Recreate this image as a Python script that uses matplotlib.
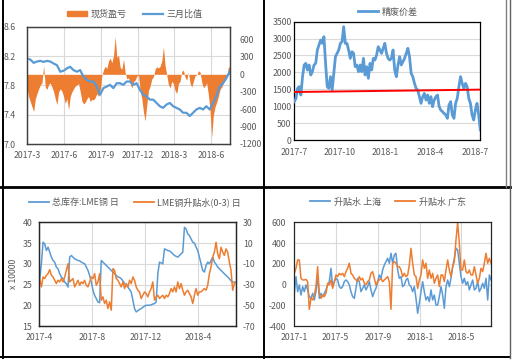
import numpy as np
import pandas as pd
import matplotlib
matplotlib.use('Agg')
import matplotlib.pyplot as plt
from matplotlib.lines import Line2D
from matplotlib.patches import Patch
from matplotlib.transforms import blended_transform_factory
from matplotlib.ticker import FuncFormatter

plt.rcParams['font.family'] = ['Noto Sans CJK SC', 'DejaVu Sans']
plt.rcParams['axes.unicode_minus'] = False

# =========================================
# 데이터
# =========================================

# 1) 现货盈亏 (右轴) / 三月比值 (左轴)
spot_pnl = [-240, -385, -470, -560, -640, -420, -330, -250, -180, -150,
            150, -220, -260, -170, -150, -220, -300, -420, -520, -300,
            -250, -290, -380, -500, -420, -610, -380, -300, -250, -200,
            -180, -160, -300, -460, -510, -480, -420, -380, -470, -430,
            -440, -400, -330, -380, -280, -20, 80, 140, 100, 230,
            280, 200, 320, 650, 290, 330, 120, 90, 260, 30,
            -80, -60, -150, -240, -130, -100, -30, -10, -280, -420,
            -650, -800, -520, -280, -200, -80, -40, 90, 130, 110,
            140, 230, 470, 150, -10, -180, -230, -120, -160, -280,
            -330, -160, -120, 50, 70, -50, -100, 40, -150, -220,
            -120, -20, -10, 60, 40, -130, -230, -200, -150, -350,
            -620, -1080, -700, -560, -480, -380, -260, -220, -150, -100,
            -40, 120, 130]
ratio_3m = [8.165, 8.152, 8.107, 8.125, 8.134, 8.120, 8.134, 8.125, 8.098, 8.076,
            7.986, 7.999, 8.031, 8.053, 8.008, 7.986, 8.008, 7.919, 7.874, 7.852,
            7.852, 7.784, 7.672, 7.762, 7.784, 7.807, 7.762, 7.829, 7.829, 7.807,
            7.852, 7.852, 7.807, 7.829, 7.739, 7.672, 7.650, 7.605, 7.605, 7.560,
            7.515, 7.493, 7.538, 7.560, 7.515, 7.493, 7.471, 7.426, 7.426, 7.381,
            7.426, 7.471, 7.493, 7.471, 7.515, 7.471, 7.560, 7.650, 7.784, 7.829,
            7.896, 7.986]

# 2) 精废价差
scrap_spread = [1134, 1233, 1528, 1578, 1331, 1873, 2219, 2268, 2071, 2219,
                1923, 2021, 2219, 2268, 2662, 2810, 2958, 2859, 3057, 2268,
                1578, 1528, 1873, 1479, 1972, 2465, 2564, 2662, 2859, 2909,
                3352, 2859, 2859, 2662, 2416, 2613, 2564, 2169, 2219, 2021,
                2219, 2021, 2416, 1923, 2169, 1824, 2268, 2071, 2416, 2366,
                2514, 2761, 2662, 2564, 2712, 2859, 2564, 2416, 2366, 2416,
                2662, 2071, 1873, 2219, 2465, 2219, 2317, 2416, 2564, 2712,
                2465, 1972, 1873, 1676, 1528, 1479, 1282, 1085, 1282, 1380,
                1183, 1331, 1085, 1282, 986, 1183, 1282, 1331, 986, 887,
                838, 789, 740, 641, 1035, 1134, 740, 641, 1085, 1233,
                1578, 1873, 1676, 1528, 1676, 1578, 1233, 1085, 740, 592,
                887, 1085, 740, 296]
trend_ends = [1420, 1490]

# 3) 总库存:LME铜 日 (左轴, 万吨) / LME铜升贴水(0-3) 日 (右轴)
lme_stock = [26.4, 30.0, 35.2, 34.8, 33.2, 34.0, 32.8, 31.6, 30.8, 30.4,
             29.2, 28.8, 27.6, 26.8, 26.4, 25.6, 25.2, 24.4, 31.6, 32.0,
             31.6, 31.2, 31.0, 30.8, 30.7, 30.4, 30.2, 30.0, 29.2, 28.4,
             27.2, 25.6, 23.6, 22.4, 21.6, 20.8, 20.6, 30.8, 30.4, 30.0,
             29.6, 29.2, 28.8, 28.4, 28.0, 27.6, 27.2, 26.8, 26.7, 26.4,
             25.9, 25.2, 24.8, 24.4, 23.8, 23.2, 21.2, 19.2, 18.4, 18.7,
             19.0, 19.2, 19.5, 19.8, 20.0, 20.0, 20.0, 20.1, 20.3, 20.4,
             20.8, 27.6, 30.4, 30.2, 30.0, 33.6, 33.4, 33.2, 33.1, 32.8,
             32.4, 32.0, 31.8, 31.6, 32.0, 32.4, 32.8, 38.8, 38.4, 37.2,
             36.8, 36.0, 35.2, 35.0, 34.0, 33.2, 31.6, 30.0, 28.4, 28.0,
             29.6, 30.4, 30.0, 30.8, 31.6, 30.4, 29.9, 29.2, 28.8, 28.4,
             28.0, 27.6, 27.2, 26.8, 26.4, 25.9, 25.6, 25.6, 25.4]
lme_y_pix = [175, 200, 170, 175, 165, 160, 148, 165, 170, 180,
             190, 180, 185, 175, 185, 170, 150, 130, 185, 180,
             175, 200, 190, 180, 195, 185, 190, 180, 195, 200,
             185, 170, 175, 160, 195, 185, 160, 240, 230, 250,
             240, 265, 245, 270, 145, 150, 175, 180, 190, 200,
             185, 205, 190, 200, 180, 190, 170, 180, 200, 210,
             215, 235, 225, 215, 220, 230, 215, 205, 185, 240,
             230, 225, 235, 230, 225, 235, 225, 230, 220, 205,
             215, 200, 215, 185, 205, 190, 210, 225, 215, 210,
             220, 230, 250, 225, 205, 225, 215, 215, 210, 205,
             210, 195, 160, 140, 110, 95, 65, 100, 115, 80,
             95, 105, 85, 95, 125, 150, 210, 190, 185]
lme_spread = [round(30 - (p - 5) * 0.3195, 1) for p in lme_y_pix]

# 4) 升贴水 上海 / 升贴水 广东
prem_sh = [-85, 76, -69, -4, -101, -20, -69, -4, -52, -117,
           -133, -85, -149, -69, 92, -133, -85, -117, -85, -52,
           -4, 28, 156, -20, 28, 60, 44, -20, -37, -20,
           28, 44, 28, -4, -69, -117, -133, -37, 60, 28,
           -69, -37, -4, -52, -20, 28, -52, -117, -69, -37,
           28, 92, 60, 140, 188, 221, 253, 205, 301, 205,
           285, 301, 140, 60, 76, -20, -4, 44, 60, -4,
           -20, -69, -20, -133, -278, -181, -69, 28, -69, -149,
           -117, -165, -52, -149, -101, -198, -198, -117, -20, -101,
           -229, -20, 44, -20, 60, 172, 253, 349, 333, 205,
           76, 12, 60, -4, 28, -52, -4, 44, -52, -37,
           28, -69, -37, 12, -37, 60, -149, 92, 44]
prem_gd = [108, 156, 237, 237, 60, 44, 44, 50, 28, -239,
           -133, -149, -101, -20, 172, -85, -133, -101, -117, -85,
           12, -4, 44, -37, 28, 92, 76, 108, 92, 108,
           76, 124, 156, 205, 108, 92, 60, 44, 28, 76,
           44, 60, 12, -4, 28, 44, 108, 124, 60, -4,
           28, 44, 60, 28, 44, 60, 76, 28, -239, 205,
           221, 205, 172, 172, 140, 76, 108, 76, 92, 188,
           349, 205, 92, 76, -37, 44, 92, 237, 156, 205,
           60, 140, 60, 108, 12, 60, 92, -20, 92, 92,
           28, 140, 237, 140, 76, 172, 221, 430, 600, 397,
           140, 140, 237, 124, 108, 140, 92, 92, 172, 92,
           12, 60, 156, 124, 205, 301, 205, 253, 205]

BLUE = '#5B9BD5'
ORANGE = '#ED7D31'
TXT = '#595959'
GRID = '#D9D9D9'

W, H = 513, 362


def box(l, t, r, b):
    return [l / W, 1 - b / H, (r - l) / W, (b - t) / H]


ym_fmt = FuncFormatter(lambda v, p: '%d-%d' % (pd.Timestamp(matplotlib.dates.num2date(v)).year,
                                               pd.Timestamp(matplotlib.dates.num2date(v)).month))


def style(ax, frame='#404040'):
    for s in ax.spines.values():
        s.set_color(frame)
        s.set_linewidth(0.9)
    ax.tick_params(length=0, labelsize=6.3, labelcolor=TXT)


fig = plt.figure(figsize=(W / 100, H / 100), dpi=100)

# =========================================
# 패널 1
# =========================================
d_bar = pd.date_range('2017-03-01', '2018-07-17', periods=len(spot_pnl))
d_rat = pd.date_range('2017-03-01', '2018-07-16', periods=len(ratio_3m))

ax1 = fig.add_axes(box(27, 26.7, 230, 144))
ax1l = ax1.twinx()
ax1.fill_between(d_bar, 0, spot_pnl, color=ORANGE, lw=0, zorder=2)
ax1.set_ylim(-1200, 820)
ax1.set_yticks(range(-1200, 601, 300))
ax1.yaxis.tick_right()
ax1l.yaxis.tick_left()
ax1l.plot(d_rat, ratio_3m, color=BLUE, lw=1.6)
ax1l.set_ylim(7.0, 8.6)
ax1l.set_yticks([7.0, 7.4, 7.8, 8.2, 8.6])
ax1l.yaxis.set_major_formatter(FuncFormatter(lambda v, p: '%.1f' % v))
ax1.set_xlim(pd.Timestamp('2017-03-01'), pd.Timestamp('2018-07-17'))
ax1.set_xticks(pd.to_datetime(['2017-03-01', '2017-06-01', '2017-09-01',
                               '2017-12-01', '2018-03-01', '2018-06-01']))
ax1.xaxis.set_major_formatter(ym_fmt)
ax1.grid(axis='x', color=GRID, lw=0.8, zorder=0)
ax1.set_axisbelow(True)
tr = blended_transform_factory(ax1.transAxes, ax1l.transData)
for g in [7.4, 7.8, 8.2]:
    ax1.plot([0, 1], [g, g], transform=tr, color=GRID, lw=0.8, zorder=1)
style(ax1)
style(ax1l)
ax1.tick_params(axis='y', pad=7)
ax1l.tick_params(axis='y', pad=8)
ax1.tick_params(axis='x', pad=5)
fig.legend([Patch(color=ORANGE), Line2D([], [], color=BLUE, lw=1.6)],
           ['现货盈亏', '三月比值'], loc='center', bbox_to_anchor=(135 / W, 1 - 14 / H),
           ncol=2, frameon=False, fontsize=6.5, labelcolor=TXT, handlelength=2.2,
           handleheight=0.6, columnspacing=1.8, handletextpad=0.4)

# =========================================
# 패널 2
# =========================================
d_scr = pd.date_range('2017-07-01', '2018-07-11', periods=len(scrap_spread))
ax2 = fig.add_axes(box(294.3, 21.7, 480.3, 140))
ax2.plot(d_scr, scrap_spread, color=BLUE, lw=2.0, zorder=3)
ax2.plot([d_scr[0], d_scr[-1]], trend_ends, color='#FF0000', lw=1.4, zorder=4)
ax2.set_ylim(0, 3500)
ax2.set_yticks(range(0, 3501, 500))
ax2.set_xlim(pd.Timestamp('2017-07-01'), pd.Timestamp('2018-07-11'))
ax2.set_xticks(pd.to_datetime(['2017-07-01', '2017-10-01', '2018-01-01',
                               '2018-04-01', '2018-07-01']))
ax2.xaxis.set_major_formatter(ym_fmt)
ax2.grid(axis='y', color=GRID, lw=0.8)
ax2.set_axisbelow(True)
style(ax2, frame='#000000')
ax2.tick_params(axis='y', pad=2)
ax2.tick_params(axis='x', pad=6)
fig.legend([Line2D([], [], color=BLUE, lw=2.0)], ['精废价差'], loc='center',
           bbox_to_anchor=(388 / W, 1 - 12 / H), frameon=False, fontsize=6.5,
           labelcolor=TXT, handlelength=2.2, handletextpad=0.4)

# =========================================
# 패널 3
# =========================================
d_lme = pd.date_range('2017-04-02', '2018-06-28', periods=len(lme_stock))
ax3 = fig.add_axes(box(39.3, 222.3, 236, 326))
ax3r = ax3.twinx()
ax3.plot(d_lme, lme_stock, color=BLUE, lw=1.1)
ax3r.plot(d_lme, lme_spread, color=ORANGE, lw=1.1)
ax3.set_ylim(15, 40)
ax3.set_yticks(range(15, 41, 5))
ax3r.set_ylim(-70, 30)
ax3r.set_yticks(range(-70, 31, 20))
ax3.set_xlim(pd.Timestamp('2017-04-01'), pd.Timestamp('2018-06-28'))
ax3.set_xticks(pd.to_datetime(['2017-04-01', '2017-08-01', '2017-12-01', '2018-04-01']))
ax3.xaxis.set_major_formatter(ym_fmt)
ax3.grid(color=GRID, lw=0.8)
ax3.set_axisbelow(True)
ax3.set_ylabel('x 10000', fontsize=6.3, color=TXT, labelpad=3)
style(ax3, frame='#262626')
style(ax3r, frame='#262626')
ax3.tick_params(axis='y', pad=5)
ax3r.tick_params(axis='y', pad=5)
ax3.tick_params(axis='x', pad=5)
fig.legend([Line2D([], [], color=BLUE, lw=1.3), Line2D([], [], color=ORANGE, lw=1.3)],
           ['总库存:LME铜 日', 'LME铜升贴水(0-3) 日'], loc='center',
           bbox_to_anchor=(135 / W, 1 - 202 / H), ncol=2, frameon=False, fontsize=6.5,
           labelcolor=TXT, handlelength=2.2, columnspacing=1.6, handletextpad=0.4)

# =========================================
# 패널 4
# =========================================
d_prem = pd.date_range('2017-01-01', '2018-07-26', periods=len(prem_sh))
ax4 = fig.add_axes(box(294.3, 222.3, 491, 326))
ax4.plot(d_prem, prem_sh, color=BLUE, lw=1.1)
ax4.plot(d_prem, prem_gd, color=ORANGE, lw=1.1)
ax4.set_ylim(-400, 600)
ax4.set_yticks(range(-400, 601, 200))
ax4.set_xlim(pd.Timestamp('2017-01-01'), pd.Timestamp('2018-07-26'))
ax4.set_xticks(pd.to_datetime(['2017-01-01', '2017-05-01', '2017-09-01',
                               '2018-01-01', '2018-05-01']))
ax4.xaxis.set_major_formatter(ym_fmt)
ax4.grid(color=GRID, lw=0.8)
ax4.set_axisbelow(True)
style(ax4, frame='#262626')
ax4.tick_params(axis='y', pad=6)
ax4.tick_params(axis='x', pad=5)
fig.legend([Line2D([], [], color=BLUE, lw=1.3), Line2D([], [], color=ORANGE, lw=1.3)],
           ['升贴水 上海', '升贴水 广东'], loc='center',
           bbox_to_anchor=(388 / W, 1 - 202 / H), ncol=2, frameon=False, fontsize=6.5,
           labelcolor=TXT, handlelength=2.2, columnspacing=1.6, handletextpad=0.4)

# =========================================
# 바깥 테두리 (스크린샷 격자선)
# =========================================
def fline(x0, y0, x1, y1, c='#000000', lw=1.4):
    fig.add_artist(Line2D([x0 / W, x1 / W], [1 - y0 / H, 1 - y1 / H], color=c, lw=lw))

fline(3, 0, 3, 358)
fline(264, 0, 264, 358)
fline(0, 187, 510, 187, lw=2.0)
fline(0, 357, 510, 357)
fline(506, 0, 506, 187, c='#808080', lw=1.0)
fline(510, 0, 510, 358, c='#606060', lw=1.0)

fig.savefig('out.png', dpi=100)
